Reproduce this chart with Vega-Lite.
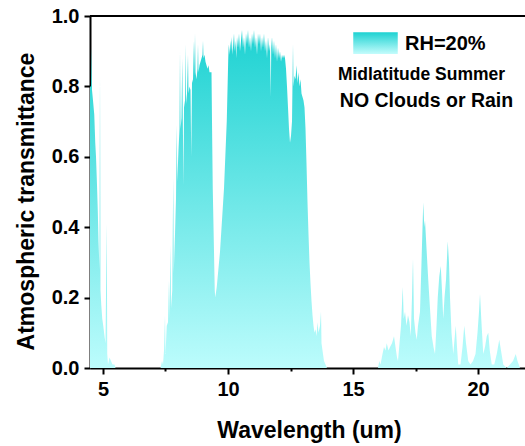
{
  "$schema": "https://vega.github.io/schema/vega-lite/v6.json",
  "width": 435,
  "height": 352,
  "autosize": {"type": "none"},
  "padding": {"left": 90, "top": 16, "right": 0, "bottom": 78},
  "background": "white",
  "config": {
    "view": {"stroke": null},
    "font": "Liberation Sans",
    "axis": {
      "grid": false,
      "domainColor": "black",
      "domainWidth": 2,
      "tickColor": "black",
      "tickWidth": 2,
      "tickSize": 6,
      "labelFont": "Liberation Sans",
      "labelFontWeight": "bold",
      "labelFontSize": 20,
      "labelColor": "black",
      "labelPadding": 5,
      "labelFlush": false,
      "labelOverlap": false,
      "titleFont": "Liberation Sans",
      "titleFontWeight": "bold",
      "titleFontSize": 23,
      "titleColor": "black"
    }
  },
  "layer": [
    {
      "data": {
        "values": [
          {"w": 4.48, "t": 0.80}, {"w": 4.52, "t": 0.80}, {"w": 4.54, "t": 0.91}, {"w": 4.56, "t": 0.79},
          {"w": 4.60, "t": 0.76}, {"w": 4.65, "t": 0.72}, {"w": 4.69, "t": 0.64}, {"w": 4.72, "t": 0.60},
          {"w": 4.76, "t": 0.52}, {"w": 4.79, "t": 0.45}, {"w": 4.82, "t": 0.36}, {"w": 4.86, "t": 0.28},
          {"w": 4.88, "t": 0.83}, {"w": 4.90, "t": 0.22}, {"w": 4.93, "t": 0.18}, {"w": 4.97, "t": 0.14},
          {"w": 5.01, "t": 0.12}, {"w": 5.06, "t": 0.09}, {"w": 5.10, "t": 0.07}, {"w": 5.15, "t": 0.41},
          {"w": 5.17, "t": 0.04}, {"w": 5.20, "t": 0.01}, {"w": 5.26, "t": 0.03}, {"w": 5.32, "t": 0.02},
          {"w": 5.38, "t": 0.01}, {"w": 5.46, "t": 0.01}, {"w": 5.50, "t": 0},
          {"w": 6.0, "t": 0}, {"w": 7.0, "t": 0}, {"w": 7.30, "t": 0},
          {"w": 7.36, "t": 0.02}, {"w": 7.40, "t": 0.01}, {"w": 7.44, "t": 0.05}, {"w": 7.48, "t": 0.15},
          {"w": 7.50, "t": 0.04}, {"w": 7.55, "t": 0.12}, {"w": 7.60, "t": 0.13}, {"w": 7.64, "t": 0.25},
          {"w": 7.66, "t": 0.14}, {"w": 7.70, "t": 0.35}, {"w": 7.72, "t": 0.17}, {"w": 7.77, "t": 0.22},
          {"w": 7.81, "t": 0.54}, {"w": 7.83, "t": 0.27}, {"w": 7.88, "t": 0.38}, {"w": 7.92, "t": 0.48},
          {"w": 7.95, "t": 0.69}, {"w": 7.97, "t": 0.53}, {"w": 8.02, "t": 0.62}, {"w": 8.06, "t": 0.68},
          {"w": 8.08, "t": 0.90}, {"w": 8.10, "t": 0.68}, {"w": 8.14, "t": 0.71}, {"w": 8.17, "t": 0.88},
          {"w": 8.19, "t": 0.72}, {"w": 8.22, "t": 0.52}, {"w": 8.24, "t": 0.74}, {"w": 8.28, "t": 0.76},
          {"w": 8.30, "t": 0.92}, {"w": 8.32, "t": 0.75}, {"w": 8.36, "t": 0.78}, {"w": 8.40, "t": 0.89},
          {"w": 8.42, "t": 0.78}, {"w": 8.46, "t": 0.80}, {"w": 8.50, "t": 0.79}, {"w": 8.53, "t": 0.60},
          {"w": 8.56, "t": 0.81}, {"w": 8.60, "t": 0.82}, {"w": 8.64, "t": 0.93}, {"w": 8.66, "t": 0.83},
          {"w": 8.68, "t": 0.95}, {"w": 8.70, "t": 0.84}, {"w": 8.74, "t": 0.82}, {"w": 8.78, "t": 0.85},
          {"w": 8.80, "t": 0.92}, {"w": 8.82, "t": 0.84}, {"w": 8.86, "t": 0.86}, {"w": 8.90, "t": 0.87},
          {"w": 8.94, "t": 0.88}, {"w": 8.98, "t": 0.89}, {"w": 9.00, "t": 0.93}, {"w": 9.02, "t": 0.88},
          {"w": 9.06, "t": 0.89}, {"w": 9.10, "t": 0.87}, {"w": 9.14, "t": 0.86}, {"w": 9.18, "t": 0.85},
          {"w": 9.22, "t": 0.86}, {"w": 9.26, "t": 0.84}, {"w": 9.30, "t": 0.84}, {"w": 9.34, "t": 0.84},
          {"w": 9.36, "t": 0.70}, {"w": 9.39, "t": 0.51}, {"w": 9.44, "t": 0.33}, {"w": 9.47, "t": 0.22},
          {"w": 9.49, "t": 0.20}, {"w": 9.55, "t": 0.23}, {"w": 9.68, "t": 0.33}, {"w": 9.84, "t": 0.51},
          {"w": 9.95, "t": 0.70}, {"w": 10.01, "t": 0.88},
          {"w": 10.03, "t": 0.92}, {"w": 10.06, "t": 0.89}, {"w": 10.09, "t": 0.93}, {"w": 10.12, "t": 0.90},
          {"w": 10.15, "t": 0.94}, {"w": 10.18, "t": 0.89}, {"w": 10.21, "t": 0.92}, {"w": 10.24, "t": 0.95},
          {"w": 10.27, "t": 0.90}, {"w": 10.30, "t": 0.93}, {"w": 10.33, "t": 0.88}, {"w": 10.36, "t": 0.94},
          {"w": 10.40, "t": 0.91}, {"w": 10.44, "t": 0.95}, {"w": 10.48, "t": 0.90}, {"w": 10.52, "t": 0.93},
          {"w": 10.56, "t": 0.96}, {"w": 10.60, "t": 0.91}, {"w": 10.64, "t": 0.94}, {"w": 10.68, "t": 0.89},
          {"w": 10.72, "t": 0.95}, {"w": 10.76, "t": 0.92}, {"w": 10.80, "t": 0.96}, {"w": 10.84, "t": 0.91},
          {"w": 10.88, "t": 0.94}, {"w": 10.92, "t": 0.90}, {"w": 10.96, "t": 0.95}, {"w": 11.00, "t": 0.92},
          {"w": 11.04, "t": 0.96}, {"w": 11.08, "t": 0.91}, {"w": 11.12, "t": 0.94}, {"w": 11.16, "t": 0.89},
          {"w": 11.20, "t": 0.95}, {"w": 11.24, "t": 0.92}, {"w": 11.28, "t": 0.95}, {"w": 11.32, "t": 0.90},
          {"w": 11.36, "t": 0.94}, {"w": 11.40, "t": 0.91}, {"w": 11.44, "t": 0.95}, {"w": 11.48, "t": 0.90},
          {"w": 11.52, "t": 0.93}, {"w": 11.56, "t": 0.88}, {"w": 11.60, "t": 0.94}, {"w": 11.64, "t": 0.90},
          {"w": 11.68, "t": 0.92}, {"w": 11.71, "t": 0.77}, {"w": 11.73, "t": 0.91}, {"w": 11.76, "t": 0.94},
          {"w": 11.80, "t": 0.89}, {"w": 11.84, "t": 0.93}, {"w": 11.88, "t": 0.88}, {"w": 11.92, "t": 0.92},
          {"w": 11.96, "t": 0.87}, {"w": 12.00, "t": 0.91}, {"w": 12.04, "t": 0.88}, {"w": 12.08, "t": 0.90},
          {"w": 12.12, "t": 0.87}, {"w": 12.16, "t": 0.89}, {"w": 12.20, "t": 0.88}, {"w": 12.24, "t": 0.89},
          {"w": 12.28, "t": 0.88}, {"w": 12.32, "t": 0.85}, {"w": 12.36, "t": 0.80}, {"w": 12.40, "t": 0.74},
          {"w": 12.44, "t": 0.68}, {"w": 12.48, "t": 0.64}, {"w": 12.52, "t": 0.66}, {"w": 12.56, "t": 0.70},
          {"w": 12.60, "t": 0.92}, {"w": 12.62, "t": 0.80}, {"w": 12.66, "t": 0.83}, {"w": 12.70, "t": 0.82},
          {"w": 12.74, "t": 0.86}, {"w": 12.78, "t": 0.81}, {"w": 12.82, "t": 0.84}, {"w": 12.86, "t": 0.80},
          {"w": 12.90, "t": 0.82}, {"w": 12.94, "t": 0.78}, {"w": 12.98, "t": 0.77}, {"w": 13.02, "t": 0.76},
          {"w": 13.06, "t": 0.74}, {"w": 13.10, "t": 0.68}, {"w": 13.14, "t": 0.58}, {"w": 13.18, "t": 0.47},
          {"w": 13.22, "t": 0.38}, {"w": 13.26, "t": 0.30}, {"w": 13.30, "t": 0.24}, {"w": 13.34, "t": 0.19},
          {"w": 13.38, "t": 0.15}, {"w": 13.42, "t": 0.12}, {"w": 13.46, "t": 0.10}, {"w": 13.50, "t": 0.11},
          {"w": 13.54, "t": 0.09}, {"w": 13.58, "t": 0.13}, {"w": 13.62, "t": 0.10}, {"w": 13.68, "t": 0.12},
          {"w": 13.72, "t": 0.16}, {"w": 13.74, "t": 0.07}, {"w": 13.78, "t": 0.05}, {"w": 13.84, "t": 0.02},
          {"w": 13.90, "t": 0.01}, {"w": 13.96, "t": 0},
          {"w": 14.5, "t": 0}, {"w": 15.5, "t": 0}, {"w": 16.0, "t": 0},
          {"w": 16.05, "t": 0.02}, {"w": 16.10, "t": 0.01}, {"w": 16.18, "t": 0.04}, {"w": 16.24, "t": 0.06},
          {"w": 16.30, "t": 0.05}, {"w": 16.35, "t": 0.07}, {"w": 16.42, "t": 0.05}, {"w": 16.48, "t": 0.06},
          {"w": 16.56, "t": 0.07}, {"w": 16.64, "t": 0.09}, {"w": 16.70, "t": 0.06}, {"w": 16.76, "t": 0.03},
          {"w": 16.80, "t": 0.02}, {"w": 16.86, "t": 0.07}, {"w": 16.92, "t": 0.12}, {"w": 16.99, "t": 0.23},
          {"w": 17.03, "t": 0.14}, {"w": 17.08, "t": 0.16}, {"w": 17.14, "t": 0.12}, {"w": 17.20, "t": 0.15},
          {"w": 17.26, "t": 0.13}, {"w": 17.31, "t": 0.09}, {"w": 17.36, "t": 0.20}, {"w": 17.40, "t": 0.31},
          {"w": 17.44, "t": 0.14}, {"w": 17.50, "t": 0.10}, {"w": 17.55, "t": 0.08}, {"w": 17.60, "t": 0.12},
          {"w": 17.68, "t": 0.16}, {"w": 17.74, "t": 0.30}, {"w": 17.81, "t": 0.47}, {"w": 17.85, "t": 0.40},
          {"w": 17.88, "t": 0.42}, {"w": 17.94, "t": 0.34}, {"w": 18.01, "t": 0.25}, {"w": 18.07, "t": 0.18},
          {"w": 18.15, "t": 0.09}, {"w": 18.22, "t": 0.06}, {"w": 18.28, "t": 0.04}, {"w": 18.34, "t": 0.12},
          {"w": 18.39, "t": 0.20}, {"w": 18.45, "t": 0.26}, {"w": 18.51, "t": 0.29}, {"w": 18.56, "t": 0.22},
          {"w": 18.61, "t": 0.14}, {"w": 18.66, "t": 0.20}, {"w": 18.72, "t": 0.25}, {"w": 18.79, "t": 0.36},
          {"w": 18.84, "t": 0.30}, {"w": 18.88, "t": 0.20}, {"w": 18.94, "t": 0.10}, {"w": 19.01, "t": 0.04},
          {"w": 19.06, "t": 0.08}, {"w": 19.11, "t": 0.12}, {"w": 19.16, "t": 0.06}, {"w": 19.21, "t": 0.01},
          {"w": 19.30, "t": 0.01}, {"w": 19.38, "t": 0.06}, {"w": 19.45, "t": 0.12}, {"w": 19.52, "t": 0.07},
          {"w": 19.61, "t": 0.02}, {"w": 19.70, "t": 0.01}, {"w": 19.80, "t": 0.02}, {"w": 19.90, "t": 0.04},
          {"w": 19.98, "t": 0.10}, {"w": 20.04, "t": 0.16}, {"w": 20.08, "t": 0.21}, {"w": 20.13, "t": 0.14},
          {"w": 20.21, "t": 0.04}, {"w": 20.28, "t": 0.06}, {"w": 20.35, "t": 0.09}, {"w": 20.41, "t": 0.10},
          {"w": 20.47, "t": 0.05}, {"w": 20.55, "t": 0.01}, {"w": 20.65, "t": 0.01}, {"w": 20.75, "t": 0.04},
          {"w": 20.85, "t": 0.08}, {"w": 20.92, "t": 0.05}, {"w": 21.01, "t": 0.01}, {"w": 21.15, "t": 0},
          {"w": 21.28, "t": 0.01}, {"w": 21.40, "t": 0.02}, {"w": 21.51, "t": 0.04}, {"w": 21.58, "t": 0.02},
          {"w": 21.68, "t": 0}, {"w": 21.88, "t": 0}
        ]
      },
      "mark": {
        "type": "area",
        "interpolate": "linear",
        "color": {
          "gradient": "linear",
          "x1": 1, "y1": 1, "x2": 1, "y2": 0,
          "stops": [
            {"offset": 0, "color": "#bcfcfc"},
            {"offset": 1, "color": "#1dd2d2"}
          ]
        }
      },
      "encoding": {
        "x": {
          "field": "w",
          "type": "quantitative",
          "scale": {"domain": [4.48, 21.88], "nice": false, "zero": false},
          "axis": {
            "title": "Wavelength (um)",
            "values": [5, 7.5, 10, 12.5, 15, 17.5, 20],
            "labelExpr": "datum.value % 5 === 0 ? format(datum.value, 'd') : ''",
            "tickSize": {"condition": {"test": "datum.value % 5 !== 0", "value": 3}, "value": 6},
            "titleX": 219,
            "titleY": 69,
            "titleAlign": "center",
            "titleBaseline": "alphabetic"
          }
        },
        "y": {
          "field": "t",
          "type": "quantitative",
          "scale": {"domain": [0, 1], "nice": false},
          "axis": {
            "title": "Atmospheric transmittance",
            "values": [0, 0.2, 0.4, 0.6, 0.8, 1.0],
            "format": ".1f",
            "titleX": -57,
            "titleY": 185,
            "titleAngle": 270,
            "titleAlign": "center",
            "titleBaseline": "alphabetic"
          }
        }
      }
    },
    {
      "data": {"values": [{}]},
      "mark": {"type": "rule", "color": "black", "strokeWidth": 2},
      "encoding": {"y": {"datum": 1}}
    },
    {
      "data": {"values": [{}]},
      "mark": {
        "type": "rect",
        "color": {
          "gradient": "linear",
          "x1": 1, "y1": 1, "x2": 1, "y2": 0,
          "stops": [
            {"offset": 0, "color": "#c4fcfc"},
            {"offset": 1, "color": "#1dd2d2"}
          ]
        }
      },
      "encoding": {
        "x": {"datum": 15.01},
        "x2": {"datum": 16.79},
        "y": {"datum": 0.9537},
        "y2": {"datum": 0.892}
      }
    },
    {
      "data": {"values": [{"label": "RH=20%"}]},
      "mark": {"type": "text", "font": "Liberation Sans", "fontWeight": "bold", "fontSize": 20, "align": "left", "baseline": "alphabetic", "color": "black"},
      "encoding": {"x": {"datum": 17.08}, "y": {"datum": 0.9034}, "text": {"field": "label"}}
    },
    {
      "data": {"values": [{"label": "Midlatitude Summer"}]},
      "mark": {"type": "text", "font": "Liberation Sans", "fontWeight": "bold", "fontSize": 17.5, "align": "center", "baseline": "alphabetic", "color": "black"},
      "encoding": {"x": {"datum": 17.74}, "y": {"datum": 0.818}, "text": {"field": "label"}}
    },
    {
      "data": {"values": [{"label": "NO Clouds or Rain"}]},
      "mark": {"type": "text", "font": "Liberation Sans", "fontWeight": "bold", "fontSize": 19.5, "align": "center", "baseline": "alphabetic", "color": "black"},
      "encoding": {"x": {"datum": 17.94}, "y": {"datum": 0.7406}, "text": {"field": "label"}}
    }
  ]
}
